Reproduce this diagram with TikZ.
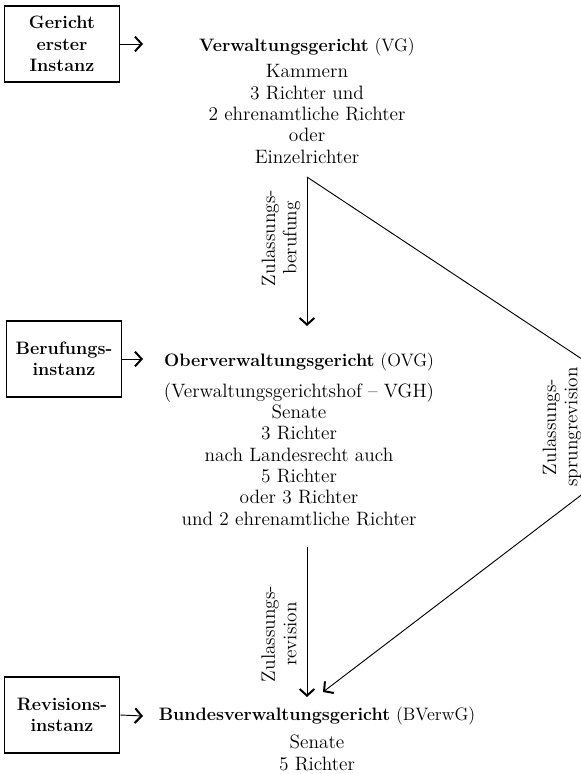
\documentclass[tikz,border=0pt]{standalone}
\usetikzlibrary{positioning,arrows.meta}
\begin{document}
\begin{tikzpicture}[x=0.75pt,y=-0.75pt,font=\fontsize{14.5}{16}\selectfont]
	% Formen festlegen
	\tikzstyle{instanz} = [rectangle, draw=black, line width=0.9pt, minimum width=85.5pt, minimum height=57pt, text width=80pt, align=center, font=\fontsize{13.5}{16}\selectfont\bfseries]	% Kasten links
	\tikzstyle{gericht} = [align=center, inner sep=1pt, font=\fontsize{13.5}{16}\selectfont]	% Name des Gerichts
	\tikzstyle{besetzung} = [align=center, inner sep=1pt]	% Kammern, Senate
	\tikzstyle{zulassung} = [rotate=90, align=center, inner sep=1pt]	% Rechtsmittel
	\tikzstyle{linie} = [line width=0.7pt]	% Linie
	\tikzstyle{arrow} = [linie, -{Straight Barb[length=5pt,width=11pt,line width=1.5pt]}]	% Pfeil
	\clip (0,0) rectangle (581,774);
	\node (erst) [instanz] at (62,44) {Gericht\\erster\\Instanz};
	\node (beruf) [instanz] at (64,359) {Berufungs-\\instanz};
	\node (revis) [instanz] at (62,715) {Revisions-\\instanz};
	\node (vg) [gericht] at (307,47) {\textbf{Verwaltungsgericht} (VG)};
	\node (vgtext) [besetzung] at (307,114) {Kammern\\3 Richter und\\2 ehrenamtliche Richter\\oder\\Einzelrichter};
	\node (ovg) [gericht] at (299,362) {\textbf{Oberverwaltungsgericht} (OVG)};
	\node (ovgtext) [besetzung] at (299,454) {(Verwaltungsgerichtshof -- VGH)\\Senate\\3 Richter\\nach Landesrecht auch\\5 Richter\\oder 3 Richter\\und 2 ehrenamtliche Richter};
	\node (bverwg) [gericht] at (317,716) {\textbf{Bundesverwaltungsgericht} (BVerwG)};
	\node (bverwgtext) [besetzung] at (317,753) {Senate\\5 Richter};
	\node (berufung) [zulassung] at (281,238) {Zulassungs-\\berufung};
	\node (revision) [zulassung] at (279,634) {Zulassungs-\\revision};
	\node (sprung) [zulassung] at (562,427) {Zulassungs-\\sprungrevision};
	\coordinate (p1) at (143,44);
	\coordinate (p2) at (143,359);
	\coordinate (p3) at (143,716);
	\coordinate (vgfuss) at (307,177);
	\coordinate (ovgkopf) at (307,326);
	\coordinate (ovgfuss) at (307,547);
	\coordinate (bvkopf) at (307,697);
	\coordinate (spitze) at (677,422);
	\coordinate (bvschraeg) at (323,692);
	
	% Verbindungen
	\draw [arrow] (erst.east) -- (p1);
	\draw [arrow] (beruf.east) -- (p2);
	\draw [arrow] (revis.east) -- (p3);
	\draw [arrow] (vgfuss) -- (ovgkopf);
	\draw [linie] (vgfuss) -- (spitze);
	\draw [arrow] (spitze) -- (bvschraeg);
	\draw [arrow] (ovgfuss) -- (bvkopf);
\end{tikzpicture}
\end{document}
